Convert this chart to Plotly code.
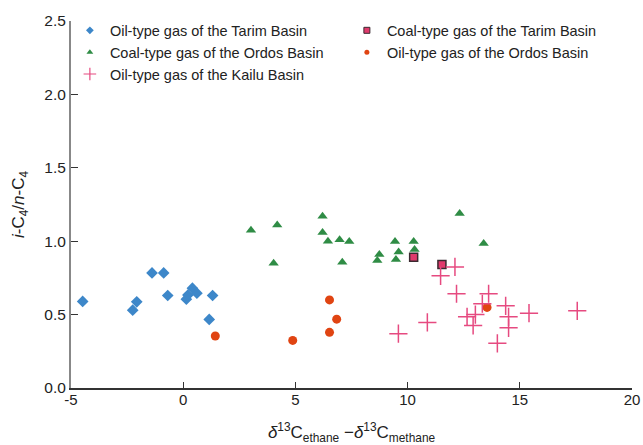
import plotly.graph_objects as go

# Oil-type gas of the Tarim Basin
tarim_oil_x = [-4.48, -2.25, -2.07, -1.39, -0.87, -0.69, 0.14, 0.21, 0.41, 0.61, 1.31, 1.16]
tarim_oil_y = [0.59, 0.53, 0.587, 0.784, 0.784, 0.63, 0.605, 0.633, 0.68, 0.646, 0.63, 0.467]

# Coal-type gas of the Tarim Basin
tarim_coal_x = [10.27, 11.53]
tarim_coal_y = [0.891, 0.841]

# Coal-type gas of the Ordos Basin
ordos_coal_x = [3.02, 4.19, 6.21, 6.21, 6.45, 6.97, 7.40, 4.03, 7.09, 8.74, 8.65, 9.44, 9.60, 9.48, 10.27, 10.31, 12.32, 13.39]
ordos_coal_y = [1.075, 1.11, 1.17, 1.06, 1.00, 1.01, 0.998, 0.85, 0.857, 0.91, 0.868, 0.998, 0.927, 0.875, 0.998, 0.943, 1.188, 0.984]

# Oil-type gas of the Ordos Basin
ordos_oil_x = [1.43, 6.52, 6.84, 6.52, 4.88, 13.54]
ordos_oil_y = [0.354, 0.60, 0.469, 0.379, 0.324, 0.549]

# Oil-type gas of the Kailu Basin
kailu_x = [9.59, 10.88, 11.47, 12.11, 12.18, 12.65, 12.92, 13.02, 13.33, 13.61, 14.0, 14.37, 14.5, 14.5, 15.41, 17.56]
kailu_y = [0.37, 0.447, 0.764, 0.825, 0.642, 0.485, 0.426, 0.50, 0.574, 0.642, 0.304, 0.56, 0.485, 0.41, 0.51, 0.526]

x_ticks = [-5, 0, 5, 10, 15, 20]
y_ticks = [0.0, 0.5, 1.0, 1.5, 2.0, 2.5]

series = [
    ("Oil-type gas of the Tarim Basin", tarim_oil_x, tarim_oil_y,
     dict(symbol="diamond", size=9, color="#3d87c9"),
     dict(symbol="diamond", size=6, color="#3d87c9")),
    ("Coal-type gas of the Tarim Basin", tarim_coal_x, tarim_coal_y,
     dict(symbol="square", size=8, color="#e03a6c", line=dict(color="#3a2a30", width=1.5)),
     dict(symbol="square", size=6, color="#e03a6c", line=dict(color="#3a2a30", width=1))),
    ("Coal-type gas of the Ordos Basin", ordos_coal_x, ordos_coal_y,
     dict(symbol="triangle-up", size=9, color="#2f8c45"),
     dict(symbol="triangle-up", size=6, color="#2f8c45")),
    ("Oil-type gas of the Ordos Basin", ordos_oil_x, ordos_oil_y,
     dict(symbol="circle", size=9, color="#e04412"),
     dict(symbol="circle", size=5, color="#e04412")),
    ("Oil-type gas of the Kailu Basin", kailu_x, kailu_y,
     dict(symbol="cross-thin", size=13, line=dict(color="#e64a80", width=1.5)),
     dict(symbol="cross-thin", size=9, line=dict(color="#e64a80", width=1.2))),
]

fig = go.Figure()
for name, xs, ys, mk, lmk in series:
    fig.add_trace(go.Scatter(x=xs, y=ys, mode="markers", name=name,
                             showlegend=False, marker=mk))
for name, xs, ys, mk, lmk in series:
    fig.add_trace(go.Scatter(x=[None], y=[None], mode="markers", name=name,
                             showlegend=True, marker=lmk))

fig.update_layout(
    template="none",
    width=643, height=445,
    margin=dict(l=71, r=11, t=21, b=57, autoexpand=False),
    paper_bgcolor="white", plot_bgcolor="white",
    font=dict(family="Liberation Sans, Arial, sans-serif", size=15, color="#222"),
    showlegend=True,
    legend=dict(orientation="h", x=-0.002, y=1.018, xanchor="left", yanchor="top",
                entrywidth=232, entrywidthmode="pixels", traceorder="normal",
                itemwidth=30,
                font=dict(size=14.5, color="#222"), bgcolor="rgba(0,0,0,0)"),
    xaxis=dict(range=[-5, 20], tickvals=x_ticks, ticktext=[str(v) for v in x_ticks],
               automargin=False,
               showgrid=False, zeroline=False, showline=True, linecolor="#333", linewidth=1.5,
               ticks="inside", ticklen=6, tickcolor="#333", ticklabelstandoff=-3,
               tickfont=dict(size=15),
               title=dict(text="<i>δ</i><sup>13</sup>C<sub>ethane</sub> −<i>δ</i><sup>13</sup>C<sub>methane</sub>",
                          font=dict(size=17), standoff=20)),
    yaxis=dict(range=[0, 2.5], tickvals=y_ticks, ticktext=[f"{v:.1f}" for v in y_ticks],
               automargin=False,
               showgrid=False, zeroline=False, showline=True, linecolor="#888", linewidth=2,
               ticks="inside", ticklen=7, tickcolor="#333",
               tickfont=dict(size=15.5),
               title=dict(text="<i>i</i>-C<sub>4</sub>/<i>n</i>-C<sub>4</sub>",
                          font=dict(size=17), standoff=15)),
)

css = ("var s=document.createElement('style');"
       "s.textContent='html,body{margin:0;padding:0;overflow:hidden;width:643px;height:445px;}';"
       "document.head.appendChild(s);")
fig.write_html("out.html", config={"displayModeBar": False}, post_script=css)
